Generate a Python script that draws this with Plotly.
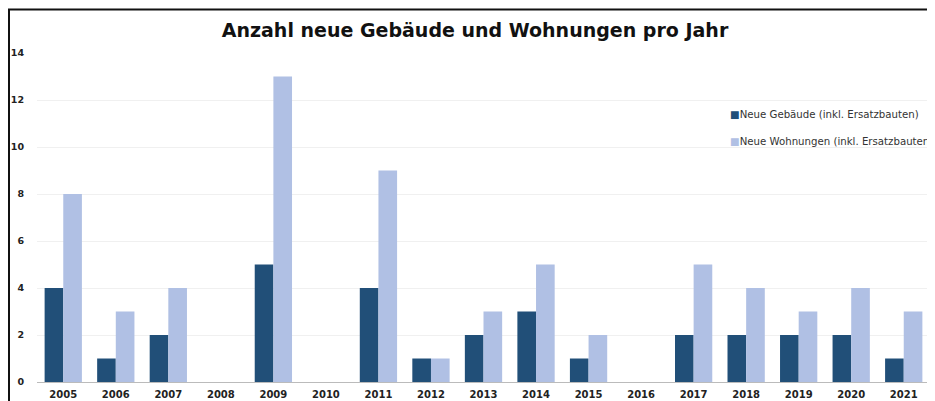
import plotly.graph_objects as go

years = ["2005", "2006", "2007", "2008", "2009", "2010", "2011", "2012", "2013",
         "2014", "2015", "2016", "2017", "2018", "2019", "2020", "2021"]
gebaeude = [4, 1, 2, 0, 5, 0, 4, 1, 2, 3, 1, 0, 2, 2, 2, 2, 1]
wohnungen = [8, 3, 4, 0, 13, 0, 9, 1, 3, 5, 2, 0, 5, 4, 3, 4, 3]
y_ticks = [0, 2, 4, 6, 8, 10, 12, 14]
series_names = ["Neue Gebäude (inkl. Ersatzbauten)", "Neue Wohnungen (inkl. Ersatzbauten)"]
colors = ["#214f78", "#b0c0e4"]

# page has an 8px body margin: figure pixel = page pixel - 8
OFF = 8
W, H = 935 - OFF, 401 - OFF
L, R, T, B = 37 - OFF, 5, 53 - OFF, 19
pw = W - L - R
ph = H - T - B

def px_x(px):  # page pixel -> paper x
    return (px - OFF - L) / pw

def px_y(py):  # page pixel -> paper y
    return (H - B - (py - OFF)) / ph

fig = go.Figure()
fig.add_trace(go.Bar(x=years, y=gebaeude, name=series_names[0],
                     marker=dict(color=colors[0], line=dict(width=0))))
fig.add_trace(go.Bar(x=years, y=wohnungen, name=series_names[1],
                     marker=dict(color=colors[1], line=dict(width=0))))

annotations = []
for i, (nm, c) in enumerate(zip(series_names, colors)):
    annotations.append(dict(
        xref="paper", yref="paper", x=px_x(728), y=px_y(114 + 27 * i),
        xanchor="left", yanchor="middle", showarrow=False,
        text=f"<span style='color:{c}'>■</span>{nm}",
        font=dict(family="DejaVu Sans, sans-serif", size=10.2, color="#333333"),
    ))

fig.update_layout(
    width=W, height=H,
    margin=dict(l=L, r=R, t=T, b=B, pad=0, autoexpand=False),
    paper_bgcolor="white", plot_bgcolor="white",
    barmode="group", bargap=0.29, bargroupgap=0.0,
    showlegend=False,
    font=dict(family="DejaVu Sans, sans-serif", color="#222222"),
    title=dict(text="<b>Anzahl neue Gebäude und Wohnungen pro Jahr</b>",
               font=dict(family="DejaVu Sans, sans-serif", size=19, color="#111111"),
               x=(475 - OFF) / W, xanchor="center", y=1 - (30 - OFF) / H, yanchor="middle",
               automargin=False),
    xaxis=dict(type="category", showgrid=False, showline=True, linecolor="#bbbbbb",
               linewidth=1, ticks="", automargin=False,
               tickfont=dict(size=10, color="#222222", family="DejaVu Sans, sans-serif", weight="bold"),
               ticklabelstandoff=3),
    yaxis=dict(range=[0, 14], tickvals=y_ticks, showgrid=True, gridcolor="#f0f0f0",
               gridwidth=1, zeroline=False, showline=False, ticks="", automargin=False,
               tickfont=dict(size=9.5, color="#222222", family="DejaVu Sans, sans-serif", weight="bold"),
               ticklabelstandoff=12),
    annotations=annotations,
    shapes=[
        dict(type="line", xref="paper", yref="paper", x0=px_x(8), x1=px_x(945),
             y0=px_y(9.5), y1=px_y(9.5), line=dict(color="#111111", width=2)),
        dict(type="line", xref="paper", yref="paper", x0=px_x(9), x1=px_x(9),
             y0=px_y(9), y1=px_y(410), line=dict(color="#111111", width=2)),
    ],
)

fig.write_html("out.html")
